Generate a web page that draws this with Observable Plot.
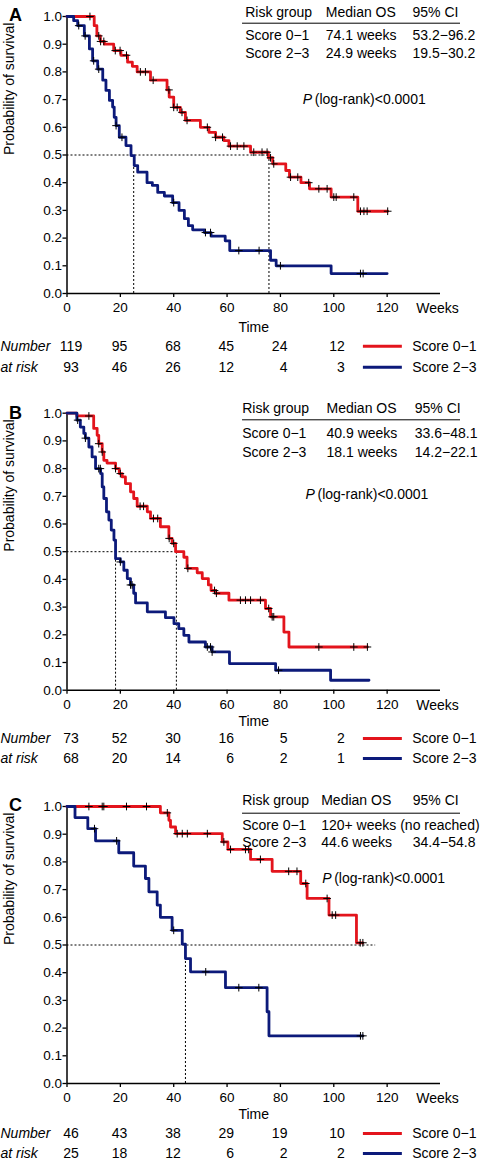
<!DOCTYPE html>
<html><head><meta charset="utf-8">
<script src="https://cdn.jsdelivr.net/npm/d3@7"></script>
<script src="https://cdn.jsdelivr.net/npm/@observablehq/plot@0.6"></script>
<style>body{margin:0;background:#fff} svg{display:block}</style>
</head><body><div id="chart"></div>
<script>
const weekTicks = [0, 20, 40, 60, 80, 100, 120];
const probTicks = [0, 0.1, 0.2, 0.3, 0.4, 0.5, 0.6, 0.7, 0.8, 0.9, 1.0];
const groupLabels = ["Score 0\u22121", "Score 2\u22123"];
const tableHeader = ["Risk group", "Median OS", "95% CI"];

// Panel A
const aRedTime = [0,10.2,11.2,12.5,14,17.5,20.2,22.7,24.5,26.3,31.3,37.5,38.3,40,42.5,44.4,50,53.2,55.7,58.8,60.7,68.8,75.5,77.1,82,83.4,87.7,90.9,99,109,120.2];
const aRedSurv = [1,0.967,0.93,0.91,0.90,0.877,0.86,0.835,0.82,0.80,0.77,0.735,0.709,0.672,0.654,0.625,0.60,0.582,0.564,0.552,0.532,0.51,0.49,0.468,0.444,0.42,0.40,0.378,0.348,0.297,0.297];
const aRedCensor = [8.6,11.9,12.6,13.8,18.1,19.9,22.3,27.5,29.4,32.3,38.2,40,41.3,43.1,45,52.6,55.7,58.3,61.3,63.8,66.3,70,73.1,75,76.3,77.5,83.8,86.5,90.6,94.4,97.5,100,100.9,107.5,110,111.3,112.5,120.2];
const aBlueTime = [0,2.5,4,6.5,8.4,9.6,11.5,13.4,14.6,15.9,17.1,17.7,18.4,19.6,22.1,24,25.2,26.5,30,32,34,36.5,39.6,42,44,45.5,47.1,51.5,54,59.3,61,76.3,78.4,99,120];
const aBlueSurv = [1,0.985,0.967,0.93,0.883,0.84,0.81,0.77,0.733,0.697,0.673,0.636,0.606,0.564,0.534,0.498,0.462,0.438,0.40,0.39,0.365,0.352,0.328,0.30,0.27,0.245,0.23,0.22,0.207,0.19,0.155,0.12,0.10,0.072,0.072];
const aBlueCensor = [4.4,6.8,10,11.9,18.4,20.6,40,51.9,53.8,64.4,72,80,110,111];
const aRiskRed = [119, 95, 68, 45, 24, 12];
const aRiskBlue = [93, 46, 26, 12, 4, 3];
const aMedianLineEnd = 75.7;
const aMedianTimes = [25, 75.7];
const aTableRows = [["Score 0\u22121", "74.1 weeks", "53.2\u221296.2"], ["Score 2\u22123", "24.9 weeks", "19.5\u221230.2"]];

// Panel B
const bRedTime = [0,3.7,10,11.3,11.9,13.2,13.8,15,18.2,19.6,20.7,21.9,23.8,25,26.3,30.1,31.3,35,38.2,39.4,40.7,43.8,45,48.8,50.7,53,54,55.7,60.7,74.4,76.3,81.3,83.2,112.6];
const bRedSurv = [1,0.99,0.945,0.92,0.89,0.86,0.83,0.82,0.80,0.782,0.77,0.746,0.716,0.692,0.664,0.644,0.62,0.59,0.548,0.53,0.50,0.48,0.44,0.424,0.403,0.38,0.36,0.35,0.325,0.295,0.265,0.21,0.156,0.156];
const bRedCensor = [8.2,11.9,13.2,18.2,20,27.4,28.7,32.4,34,38.3,40,45.3,55.3,56,65,66.9,68.8,72.5,75.6,76.9,77.5,94.4,107.5,112.6];
const bBlueTime = [0,3.7,5,6.3,6.9,8.2,9.4,10.7,12.6,13.2,13.8,14.8,15.7,16.6,17.6,18.2,20,21.3,22.6,23.8,25,25.7,30.1,36.9,40.1,41.9,43.8,45.7,51.9,54.4,60.9,78.2,98.8,113.2];
const bBlueSurv = [1,0.975,0.95,0.927,0.91,0.878,0.842,0.80,0.782,0.734,0.692,0.644,0.614,0.578,0.542,0.475,0.463,0.433,0.403,0.38,0.35,0.315,0.283,0.262,0.24,0.222,0.198,0.174,0.156,0.138,0.096,0.072,0.036,0.036];
const bBlueCensor = [4,6.9,11.9,12.5,20,23.8,24.4,52.6,53.8,54.4,79.3];
const bRiskRed = [73, 52, 30, 16, 5, 2];
const bRiskBlue = [68, 20, 14, 6, 2, 1];
const bMedianLineEnd = 41;
const bMedianTimes = [18.2, 41];
const bTableRows = [["Score 0\u22121", "40.9 weeks", "33.6\u221248.1"], ["Score 2\u22123", "18.1 weeks", "14.2\u221222.1"]];

// Panel C
const cRedTime = [0,35,38.2,38.8,40.7,58.2,60.3,68.8,76.9,87.6,90,98.2,108.5,110.9];
const cRedSurv = [1,0.977,0.95,0.926,0.902,0.872,0.845,0.809,0.766,0.722,0.668,0.608,0.508,0.508];
const cRedCensor = [8.2,13.2,13.8,22.3,29.8,37.6,41.3,43.2,45.1,52.6,58.8,61.3,66.9,68.1,72.5,83.1,86.2,89.5,97.5,99.4,100.7,109.9,110.9];
const cBlueTime = [0,3,7.8,10.7,19.4,25,29.4,30.7,33.8,35,39.4,43.2,44.4,46.3,59.4,75,75.7,110.9];
const cBlueSurv = [1,0.96,0.92,0.876,0.833,0.785,0.74,0.692,0.644,0.60,0.553,0.503,0.451,0.403,0.346,0.259,0.172,0.172];
const cBlueCensor = [10.3,18.6,40,52,64.4,71.9,110,110.9];
const cRiskRed = [46, 43, 38, 29, 19, 10];
const cRiskBlue = [25, 18, 12, 6, 2, 2];
const cMedianLineEnd = 115.7;
const cMedianTimes = [44.4];
const cTableRows = [["Score 0\u22121", "120+ weeks (no reached)", ""], ["Score 2\u22123", "44.6 weeks", "34.4\u221254.8"]];

const RED = "#e3141c";
const BLUE = "#0c1a7a";
const FF = "Liberation Sans, Arial, Helvetica, sans-serif";

function stepAt(times, surv, t) {
  let v = surv[0];
  for (let i = 0; i < times.length; i++) if (times[i] <= t) v = surv[i];
  return v;
}

function panel(p) {
  const red = p.redT.map((t, i) => ({t, s: p.redS[i]}));
  const blue = p.blueT.map((t, i) => ({t, s: p.blueS[i]}));
  const rc = p.redC.map(t => ({t, s: stepAt(p.redT, p.redS, t)}));
  const bc = p.blueC.map(t => ({t, s: stepAt(p.blueT, p.blueS, t)}));
  const T = (arr, o) => Plot.text(arr, {fontFamily: FF, fontSize: 14, fill: "black", lineAnchor: "middle", ...o});
  const riskMarks = (vals, dy) => [
    T([vals[0]], {x: weekTicks[0], frameAnchor: "bottom", dy, dx: 4}),
    T(vals.slice(1, 5), {x: (d, i) => weekTicks[i + 1], frameAnchor: "bottom", dy, dx: 7, textAnchor: "end"}),
    T([vals[5]], {x: weekTicks[5], frameAnchor: "bottom", dy, dx: 11, textAnchor: "end"})
  ];
  const tableMarks = [];
  tableHeader.forEach((h, j) => tableMarks.push(T([h], {frameAnchor: "top-left", dx: p.colDx[j], dy: p.headDy, textAnchor: "start"})));
  p.rows.forEach((row, r) => row.forEach((c, j) => {
    if (c) tableMarks.push(T([c], {frameAnchor: "top-left", dx: p.colDx[j], dy: p.rowDy[r], textAnchor: "start"}));
  }));
  return Plot.plot({
    width: 484, height: p.height,
    marginTop: p.mt, marginBottom: p.mb, marginLeft: 66.5, marginRight: 44,
    style: {fontFamily: FF, fontSize: "13px", background: "white", color: "black", overflow: "visible"},
    x: {domain: [0, 140]},
    y: {domain: [0, 1]},
    marks: [
      Plot.ruleY([0.5], {x1: 0, x2: p.medEnd, stroke: "black", strokeWidth: 1, strokeDasharray: "2,2"}),
      Plot.ruleX(p.medTimes, {y1: 0, y2: 0.5, stroke: "black", strokeWidth: 1, strokeDasharray: "2,2"}),
      Plot.axisY({ticks: probTicks, tickFormat: d3.format(".1f"), tickSize: 4, tickPadding: 1, fontSize: 13.5, label: null, strokeWidth: 1.3}),
      Plot.axisX({ticks: weekTicks, tickFormat: "d", tickSize: 4, tickPadding: 5, fontSize: 13.5, label: null, strokeWidth: 1.3}),
      Plot.ruleX([0], {stroke: "black", strokeWidth: 1.5}),
      Plot.ruleY([0], {stroke: "black", strokeWidth: 1.5}),
      Plot.line(red, {x: "t", y: "s", curve: "step-after", stroke: RED, strokeWidth: 2.8}),
      Plot.line(blue, {x: "t", y: "s", curve: "step-after", stroke: BLUE, strokeWidth: 2.8}),
      Plot.dot(rc, {x: "t", y: "s", symbol: "plus", r: 2.6, stroke: "black", strokeWidth: 1}),
      Plot.dot(bc, {x: "t", y: "s", symbol: "plus", r: 2.6, stroke: "black", strokeWidth: 1}),
      T([p.letter], {frameAnchor: "top-left", dx: -58, dy: p.letterDy, fontWeight: "bold", fontSize: 18}),
      T(["Probability of survival"], {frameAnchor: "left", dx: -57, rotate: -90}),
      T(["Weeks"], {x: 140, frameAnchor: "bottom", dy: 15.3, dx: -3}),
      T(["Time"], {frameAnchor: "bottom", dy: p.timeDy}),
      ...tableMarks,
      Plot.ruleY([1], {x1: 65.8, x2: 147.5, dy: p.ruleDy, stroke: "black", strokeWidth: 1}),
      T(["P"], {frameAnchor: "top-left", dx: p.pDx, dy: p.pDy, textAnchor: "start", fontStyle: "italic"}),
      T(["(log-rank)<0.0001"], {frameAnchor: "top-left", dx: p.pDx + 12, dy: p.pDy, textAnchor: "start"}),
      T(["Number"], {frameAnchor: "bottom-left", dx: -66.5, dy: p.r1Dy, textAnchor: "start", fontStyle: "italic"}),
      T(["at risk"], {frameAnchor: "bottom-left", dx: -66.5, dy: p.r2Dy, textAnchor: "start", fontStyle: "italic"}),
      ...riskMarks(p.riskRed, p.r1Dy),
      ...riskMarks(p.riskBlue, p.r2Dy),
      Plot.ruleY([0], {x1: 111.1, x2: 125.7, dy: p.r1Dy, stroke: RED, strokeWidth: 3}),
      Plot.ruleY([0], {x1: 111.1, x2: 125.7, dy: p.r2Dy, stroke: BLUE, strokeWidth: 3}),
      T([groupLabels[0]], {x: 129.4, frameAnchor: "bottom", dy: p.r1Dy, textAnchor: "start"}),
      T([groupLabels[1]], {x: 129.4, frameAnchor: "bottom", dy: p.r2Dy, textAnchor: "start"})
    ]
  });
}

const chart = document.getElementById("chart");
chart.append(panel({
  letter: "A", letterDy: -1.5, height: 394, mt: 16, mb: 101,
  redT: aRedTime, redS: aRedSurv, redC: aRedCensor, blueT: aBlueTime, blueS: aBlueSurv, blueC: aBlueCensor,
  riskRed: aRiskRed, riskBlue: aRiskBlue, medEnd: aMedianLineEnd, medTimes: aMedianTimes, rows: aTableRows,
  colDx: [178.2, 258.8, 345.5], headDy: -4.3, ruleDy: 6.7, rowDy: [19, 37.3], pDx: 235.8, pDy: 83,
  timeDy: 33.7, r1Dy: 52.7, r2Dy: 73.7
}));
chart.append(panel({
  letter: "B", letterDy: 0, height: 392, mt: 18.7, mb: 96.3,
  redT: bRedTime, redS: bRedSurv, redC: bRedCensor, blueT: bBlueTime, blueS: bBlueSurv, blueC: bBlueCensor,
  riskRed: bRiskRed, riskBlue: bRiskBlue, medEnd: bMedianLineEnd, medTimes: bMedianTimes, rows: bTableRows,
  colDx: [175.2, 259.5, 347.8], headDy: -4.7, ruleDy: 6.6, rowDy: [20, 39], pDx: 238.5, pDy: 81.6,
  timeDy: 31.7, r1Dy: 48.3, r2Dy: 68.3
}));
chart.append(panel({
  letter: "C", letterDy: -1, height: 378, mt: 20, mb: 81,
  redT: cRedTime, redS: cRedSurv, redC: cRedCensor, blueT: cBlueTime, blueS: cBlueSurv, blueC: cBlueCensor,
  riskRed: cRiskRed, riskBlue: cRiskBlue, medEnd: cMedianLineEnd, medTimes: cMedianTimes, rows: cTableRows,
  colDx: [175.2, 254.2, 345.8], headDy: -6, ruleDy: 6.7, rowDy: [19, 35.7], pDx: 255.2, pDy: 72.3,
  timeDy: 31.4, r1Dy: 50, r2Dy: 70
}));
</script>
</body></html>
